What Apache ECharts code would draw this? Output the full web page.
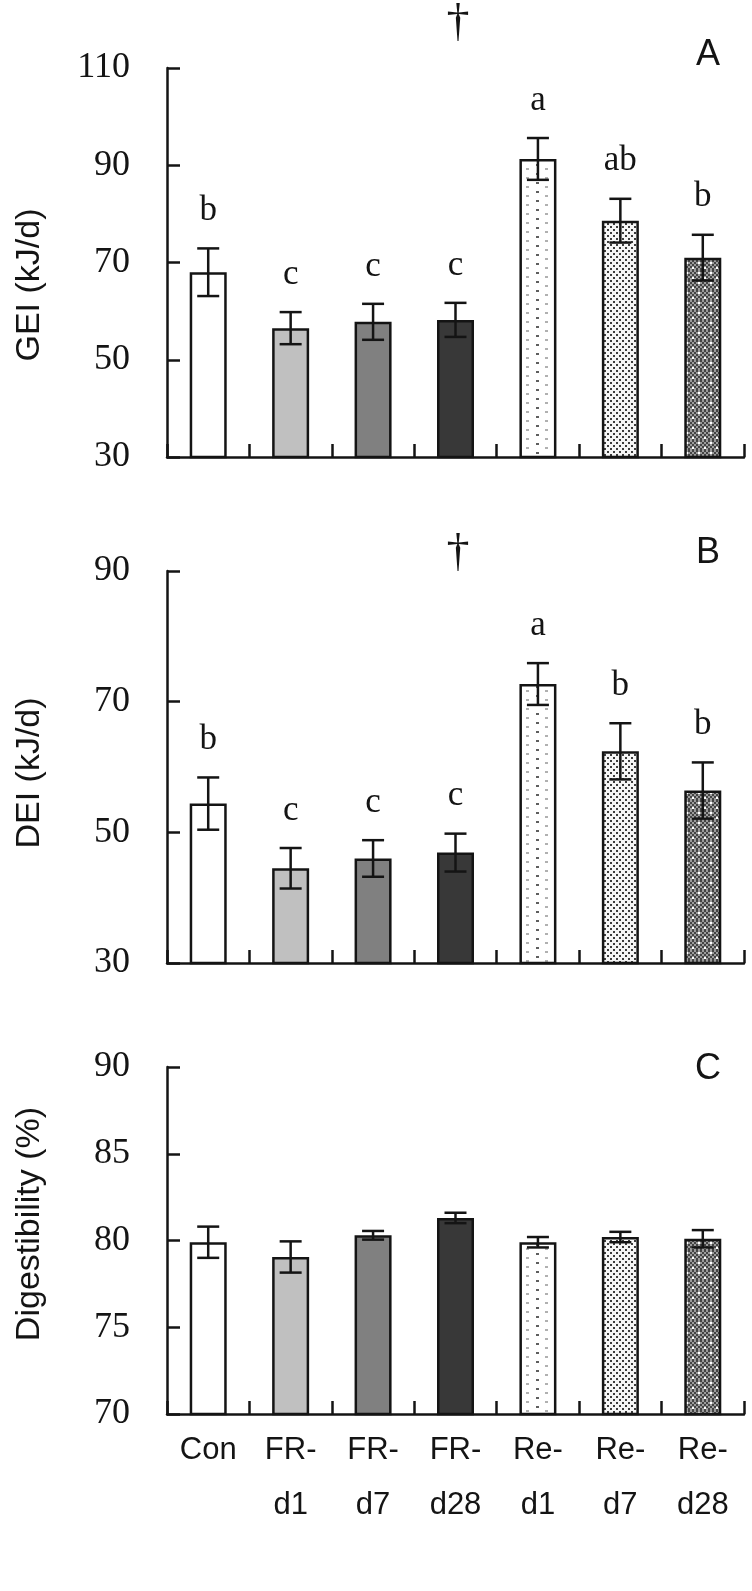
<!DOCTYPE html>
<html>
<head>
<meta charset="utf-8">
<script src="https://cdn.jsdelivr.net/npm/echarts@6/dist/echarts.min.js"></script>
<style>
html,body{margin:0;padding:0;background:#fff;}
#chart{width:752px;height:1591px;}
</style>
</head>
<body>
<div id="chart"></div>
<script>
var categories = ['Con', 'FR-\nd1', 'FR-\nd7', 'FR-\nd28', 'Re-\nd1', 'Re-\nd7', 'Re-\nd28'];

var geiMean = [68.0, 56.5, 57.8, 58.2, 91.3, 78.6, 71.0];
var geiSE = [4.9, 3.3, 3.7, 3.5, 4.3, 4.5, 4.7];
var geiLetters = ['b', 'c', 'c', 'c', 'a', 'ab', 'b'];

var deiMean = [54.4, 44.5, 46.0, 46.9, 72.7, 62.4, 56.4];
var deiSE = [4.0, 3.1, 2.8, 2.9, 3.2, 4.3, 4.3];
var deiLetters = ['b', 'c', 'c', 'c', 'a', 'b', 'b'];

var digMean = [79.9, 79.05, 80.3, 81.3, 79.9, 80.2, 80.1];
var digSE = [0.9, 0.9, 0.25, 0.3, 0.3, 0.3, 0.5];

var geiTicks = {min: 30, max: 110, interval: 20};
var deiTicks = {min: 30, max: 90, interval: 20};
var digTicks = {min: 70, max: 90, interval: 5};

function makeTile(w, h, draw) {
  var c = document.createElement('canvas');
  c.width = w; c.height = h;
  var ctx = c.getContext('2d');
  draw(ctx, w, h);
  return c;
}
var tileReD1 = makeTile(19, 9, function (ctx, w, h) {
  ctx.fillStyle = '#ffffff'; ctx.fillRect(0, 0, w, h);
  ctx.fillStyle = '#5e5e5e'; ctx.fillRect(4, 2, 3, 2);
  ctx.fillStyle = '#b0b0b0'; ctx.fillRect(13, 6, 3, 2);
});
var tileReD7 = makeTile(6, 6, function (ctx, w, h) {
  ctx.fillStyle = '#f6f6f6'; ctx.fillRect(0, 0, w, h);
  ctx.fillStyle = '#3c3c3c';
  ctx.fillRect(1, 1, 2, 2);
  ctx.fillRect(4, 4, 2, 2);
});
var tileReD28 = makeTile(12, 10, function (ctx, w, h) {
  for (var y = 0; y < h; y += 2) {
    for (var x = 0; x < w; x += 2) {
      ctx.fillStyle = ((x + y) / 2) % 2 === 0 ? '#444444' : '#9c9c9c';
      ctx.fillRect(x, y, 2, 2);
    }
  }
  ctx.fillStyle = '#ffffff';
  ctx.fillRect(2, 2, 2, 2);
  ctx.fillRect(8, 7, 2, 2);
});

var barFills = [
  '#ffffff', '#c0c0c0', '#808080', '#383838',
  {image: tileReD1, repeat: 'repeat'},
  {image: tileReD7, repeat: 'repeat'},
  {image: tileReD28, repeat: 'repeat'}
];

var INK = '#141414';
var LW = 2.5;

function barData(vals) {
  return vals.map(function (v, i) {
    return {value: v, itemStyle: {color: barFills[i]}};
  });
}
function errData(means, ses) {
  return means.map(function (m, i) { return [i, m, ses[i]]; });
}
function errRender(letters) {
  return function (params, api) {
    var i = api.value(0), m = api.value(1), se = api.value(2);
    var top = api.coord([i, m + se]);
    var bot = api.coord([i, m - se]);
    var x = top[0];
    var ls = {stroke: INK, lineWidth: LW};
    var children = [
      {type: 'line', shape: {x1: x, y1: top[1], x2: x, y2: bot[1]}, style: ls},
      {type: 'line', shape: {x1: x - 11, y1: top[1], x2: x + 11, y2: top[1]}, style: ls},
      {type: 'line', shape: {x1: x - 11, y1: bot[1], x2: x + 11, y2: bot[1]}, style: ls}
    ];
    if (letters) {
      children.push({
        type: 'text',
        style: {
          text: letters[params.dataIndex], x: x, y: top[1] - 20,
          align: 'center', verticalAlign: 'bottom',
          font: '35px "Liberation Serif", "DejaVu Serif", serif', fill: INK
        }
      });
    }
    return {type: 'group', children: children};
  };
}

var grids = [
  {left: 167, right: 8, top: 68, height: 389},
  {left: 167, right: 8, top: 571, height: 392},
  {left: 167, right: 8, top: 1067, height: 347}
];
var tickSets = [geiTicks, deiTicks, digTicks];

var xAxes = grids.map(function (g, k) {
  return {
    type: 'category', gridIndex: k, data: categories,
    axisLine: {lineStyle: {color: INK, width: LW}},
    axisTick: {show: true, inside: true, length: 13, lineStyle: {color: INK, width: LW}},
    axisLabel: {
      show: k === 2, interval: 0, margin: 9,
      fontFamily: '"Liberation Sans", Arial, sans-serif', fontSize: 31,
      lineHeight: 55, color: INK
    },
    splitLine: {show: false}
  };
});
var yAxes = tickSets.map(function (t, k) {
  return {
    type: 'value', gridIndex: k, min: t.min, max: t.max, interval: t.interval,
    axisLine: {show: true, lineStyle: {color: INK, width: LW}},
    axisTick: {show: true, inside: true, length: 13, lineStyle: {color: INK, width: LW}},
    axisLabel: {
      margin: 37, fontFamily: '"Liberation Serif", "DejaVu Serif", serif',
      fontSize: 36, color: INK
    },
    splitLine: {show: false}
  };
});

var means = [geiMean, deiMean, digMean];
var ses = [geiSE, deiSE, digSE];
var letterSets = [geiLetters, deiLetters, null];

var series = [];
means.forEach(function (m, k) {
  series.push({
    type: 'bar', xAxisIndex: k, yAxisIndex: k, data: barData(m),
    barWidth: 37,
    itemStyle: {borderColor: INK, borderWidth: LW},
    emphasis: {disabled: true}, silent: true
  });
  series.push({
    type: 'custom', xAxisIndex: k, yAxisIndex: k, z: 5,
    data: errData(m, ses[k]), renderItem: errRender(letterSets[k]),
    encode: {x: 0, y: 1}, silent: true
  });
});

function gText(text, x, y, font, rot) {
  return {
    type: 'text', x: x, y: y, rotation: rot || 0, silent: true,
    style: {text: text, font: font, fill: INK, align: 'center', verticalAlign: 'middle'}
  };
}
var sansTitle = '34px "Liberation Sans", Arial, sans-serif';
var panelFont = '36px "Liberation Sans", Arial, sans-serif';
var daggerFont = '46px "Liberation Serif", "DejaVu Serif", serif';

var chart = echarts.init(document.getElementById('chart'), null, {renderer: 'canvas'});
chart.setOption({
  backgroundColor: '#ffffff',
  animation: false,
  grid: grids,
  xAxis: xAxes,
  yAxis: yAxes,
  series: series,
  graphic: [
    gText('GEI (kJ/d)', 30, 285, sansTitle, Math.PI / 2),
    gText('DEI (kJ/d)', 30, 773, sansTitle, Math.PI / 2),
    gText('Digestibility (%)', 30, 1224, sansTitle, Math.PI / 2),
    gText('A', 708, 55, panelFont),
    gText('B', 708, 553, panelFont),
    gText('C', 708, 1069, panelFont),
    gText('\u2020', 458, 24, daggerFont),
    gText('\u2020', 458, 554, daggerFont)
  ]
});
</script>
</body>
</html>
